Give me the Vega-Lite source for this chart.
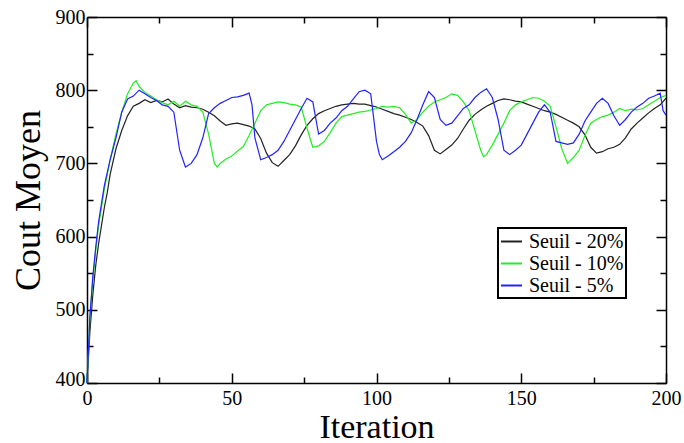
{
  "$schema": "https://vega.github.io/schema/vega-lite/v6.json",
  "width": 579,
  "height": 366,
  "autosize": "none",
  "padding": {"left": 87, "top": 17, "right": 18, "bottom": 60},
  "background": "white",
  "config": {
    "view": {"stroke": null},
    "axis": {
      "labelFont": "Liberation Serif", "labelFontSize": 20, "labelColor": "black",
      "titleFont": "Liberation Serif", "titleFontWeight": "normal", "titleColor": "black",
      "domainColor": "black", "domainWidth": 1.5, "tickColor": "black", "tickWidth": 1.5,
      "grid": false
    }
  },
  "data": {"values": [
    {"i":0,"v":400,"s":"Seuil - 20%"},{"i":1,"v":470,"s":"Seuil - 20%"},{"i":2,"v":520,"s":"Seuil - 20%"},{"i":3,"v":560,"s":"Seuil - 20%"},{"i":4,"v":590,"s":"Seuil - 20%"},{"i":5,"v":615,"s":"Seuil - 20%"},{"i":6,"v":640,"s":"Seuil - 20%"},{"i":7,"v":660,"s":"Seuil - 20%"},{"i":8,"v":685,"s":"Seuil - 20%"},{"i":10,"v":720,"s":"Seuil - 20%"},{"i":12,"v":745,"s":"Seuil - 20%"},{"i":14,"v":765,"s":"Seuil - 20%"},{"i":16,"v":778,"s":"Seuil - 20%"},{"i":18,"v":782,"s":"Seuil - 20%"},{"i":20,"v":787,"s":"Seuil - 20%"},{"i":22,"v":783,"s":"Seuil - 20%"},{"i":24,"v":786,"s":"Seuil - 20%"},{"i":26,"v":784,"s":"Seuil - 20%"},{"i":28,"v":788,"s":"Seuil - 20%"},{"i":30,"v":781,"s":"Seuil - 20%"},{"i":32,"v":776,"s":"Seuil - 20%"},{"i":34,"v":779,"s":"Seuil - 20%"},{"i":36,"v":777,"s":"Seuil - 20%"},{"i":38,"v":776,"s":"Seuil - 20%"},{"i":40,"v":774,"s":"Seuil - 20%"},{"i":42,"v":770,"s":"Seuil - 20%"},{"i":44,"v":765,"s":"Seuil - 20%"},{"i":46,"v":758,"s":"Seuil - 20%"},{"i":48,"v":752,"s":"Seuil - 20%"},{"i":50,"v":754,"s":"Seuil - 20%"},{"i":52,"v":755,"s":"Seuil - 20%"},{"i":54,"v":753,"s":"Seuil - 20%"},{"i":56,"v":751,"s":"Seuil - 20%"},{"i":58,"v":747,"s":"Seuil - 20%"},{"i":60,"v":734,"s":"Seuil - 20%"},{"i":62,"v":714,"s":"Seuil - 20%"},{"i":64,"v":701,"s":"Seuil - 20%"},{"i":66,"v":696,"s":"Seuil - 20%"},{"i":68,"v":704,"s":"Seuil - 20%"},{"i":70,"v":712,"s":"Seuil - 20%"},{"i":72,"v":724,"s":"Seuil - 20%"},{"i":74,"v":739,"s":"Seuil - 20%"},{"i":76,"v":752,"s":"Seuil - 20%"},{"i":78,"v":761,"s":"Seuil - 20%"},{"i":80,"v":768,"s":"Seuil - 20%"},{"i":82,"v":772,"s":"Seuil - 20%"},{"i":84,"v":775,"s":"Seuil - 20%"},{"i":86,"v":778,"s":"Seuil - 20%"},{"i":88,"v":780,"s":"Seuil - 20%"},{"i":90,"v":781,"s":"Seuil - 20%"},{"i":92,"v":782,"s":"Seuil - 20%"},{"i":94,"v":781,"s":"Seuil - 20%"},{"i":96,"v":781,"s":"Seuil - 20%"},{"i":98,"v":779,"s":"Seuil - 20%"},{"i":100,"v":777,"s":"Seuil - 20%"},{"i":102,"v":774,"s":"Seuil - 20%"},{"i":104,"v":771,"s":"Seuil - 20%"},{"i":106,"v":768,"s":"Seuil - 20%"},{"i":108,"v":766,"s":"Seuil - 20%"},{"i":110,"v":763,"s":"Seuil - 20%"},{"i":112,"v":760,"s":"Seuil - 20%"},{"i":114,"v":756,"s":"Seuil - 20%"},{"i":116,"v":751,"s":"Seuil - 20%"},{"i":118,"v":738,"s":"Seuil - 20%"},{"i":120,"v":718,"s":"Seuil - 20%"},{"i":122,"v":713,"s":"Seuil - 20%"},{"i":124,"v":719,"s":"Seuil - 20%"},{"i":126,"v":725,"s":"Seuil - 20%"},{"i":128,"v":734,"s":"Seuil - 20%"},{"i":130,"v":747,"s":"Seuil - 20%"},{"i":132,"v":759,"s":"Seuil - 20%"},{"i":134,"v":767,"s":"Seuil - 20%"},{"i":136,"v":773,"s":"Seuil - 20%"},{"i":138,"v":778,"s":"Seuil - 20%"},{"i":140,"v":782,"s":"Seuil - 20%"},{"i":142,"v":786,"s":"Seuil - 20%"},{"i":144,"v":788,"s":"Seuil - 20%"},{"i":146,"v":787,"s":"Seuil - 20%"},{"i":148,"v":785,"s":"Seuil - 20%"},{"i":150,"v":784,"s":"Seuil - 20%"},{"i":152,"v":781,"s":"Seuil - 20%"},{"i":154,"v":778,"s":"Seuil - 20%"},{"i":156,"v":775,"s":"Seuil - 20%"},{"i":158,"v":772,"s":"Seuil - 20%"},{"i":160,"v":770,"s":"Seuil - 20%"},{"i":162,"v":767,"s":"Seuil - 20%"},{"i":164,"v":763,"s":"Seuil - 20%"},{"i":166,"v":759,"s":"Seuil - 20%"},{"i":168,"v":755,"s":"Seuil - 20%"},{"i":170,"v":750,"s":"Seuil - 20%"},{"i":172,"v":739,"s":"Seuil - 20%"},{"i":174,"v":722,"s":"Seuil - 20%"},{"i":176,"v":714,"s":"Seuil - 20%"},{"i":178,"v":716,"s":"Seuil - 20%"},{"i":180,"v":720,"s":"Seuil - 20%"},{"i":182,"v":722,"s":"Seuil - 20%"},{"i":184,"v":726,"s":"Seuil - 20%"},{"i":186,"v":735,"s":"Seuil - 20%"},{"i":188,"v":747,"s":"Seuil - 20%"},{"i":190,"v":755,"s":"Seuil - 20%"},{"i":192,"v":762,"s":"Seuil - 20%"},{"i":194,"v":769,"s":"Seuil - 20%"},{"i":196,"v":775,"s":"Seuil - 20%"},{"i":198,"v":780,"s":"Seuil - 20%"},{"i":200,"v":789,"s":"Seuil - 20%"},

    {"i":0,"v":400,"s":"Seuil - 10%"},{"i":1,"v":490,"s":"Seuil - 10%"},{"i":2,"v":540,"s":"Seuil - 10%"},{"i":3,"v":580,"s":"Seuil - 10%"},{"i":4,"v":615,"s":"Seuil - 10%"},{"i":5,"v":640,"s":"Seuil - 10%"},{"i":6,"v":665,"s":"Seuil - 10%"},{"i":8,"v":705,"s":"Seuil - 10%"},{"i":10,"v":740,"s":"Seuil - 10%"},{"i":12,"v":770,"s":"Seuil - 10%"},{"i":14,"v":795,"s":"Seuil - 10%"},{"i":16,"v":810,"s":"Seuil - 10%"},{"i":17,"v":813,"s":"Seuil - 10%"},{"i":18,"v":805,"s":"Seuil - 10%"},{"i":20,"v":797,"s":"Seuil - 10%"},{"i":22,"v":792,"s":"Seuil - 10%"},{"i":24,"v":787,"s":"Seuil - 10%"},{"i":26,"v":783,"s":"Seuil - 10%"},{"i":28,"v":780,"s":"Seuil - 10%"},{"i":30,"v":785,"s":"Seuil - 10%"},{"i":32,"v":778,"s":"Seuil - 10%"},{"i":34,"v":785,"s":"Seuil - 10%"},{"i":36,"v":780,"s":"Seuil - 10%"},{"i":38,"v":778,"s":"Seuil - 10%"},{"i":40,"v":770,"s":"Seuil - 10%"},{"i":42,"v":740,"s":"Seuil - 10%"},{"i":44,"v":700,"s":"Seuil - 10%"},{"i":45,"v":695,"s":"Seuil - 10%"},{"i":46,"v":700,"s":"Seuil - 10%"},{"i":48,"v":706,"s":"Seuil - 10%"},{"i":50,"v":710,"s":"Seuil - 10%"},{"i":52,"v":717,"s":"Seuil - 10%"},{"i":54,"v":723,"s":"Seuil - 10%"},{"i":56,"v":738,"s":"Seuil - 10%"},{"i":58,"v":755,"s":"Seuil - 10%"},{"i":60,"v":772,"s":"Seuil - 10%"},{"i":62,"v":780,"s":"Seuil - 10%"},{"i":64,"v":782,"s":"Seuil - 10%"},{"i":66,"v":784,"s":"Seuil - 10%"},{"i":68,"v":783,"s":"Seuil - 10%"},{"i":70,"v":781,"s":"Seuil - 10%"},{"i":72,"v":780,"s":"Seuil - 10%"},{"i":74,"v":777,"s":"Seuil - 10%"},{"i":76,"v":748,"s":"Seuil - 10%"},{"i":78,"v":722,"s":"Seuil - 10%"},{"i":80,"v":724,"s":"Seuil - 10%"},{"i":82,"v":730,"s":"Seuil - 10%"},{"i":84,"v":742,"s":"Seuil - 10%"},{"i":86,"v":755,"s":"Seuil - 10%"},{"i":88,"v":764,"s":"Seuil - 10%"},{"i":90,"v":766,"s":"Seuil - 10%"},{"i":92,"v":768,"s":"Seuil - 10%"},{"i":94,"v":770,"s":"Seuil - 10%"},{"i":96,"v":771,"s":"Seuil - 10%"},{"i":98,"v":773,"s":"Seuil - 10%"},{"i":100,"v":775,"s":"Seuil - 10%"},{"i":102,"v":778,"s":"Seuil - 10%"},{"i":104,"v":777,"s":"Seuil - 10%"},{"i":106,"v":778,"s":"Seuil - 10%"},{"i":108,"v":776,"s":"Seuil - 10%"},{"i":110,"v":767,"s":"Seuil - 10%"},{"i":112,"v":755,"s":"Seuil - 10%"},{"i":114,"v":760,"s":"Seuil - 10%"},{"i":116,"v":770,"s":"Seuil - 10%"},{"i":118,"v":778,"s":"Seuil - 10%"},{"i":120,"v":784,"s":"Seuil - 10%"},{"i":122,"v":787,"s":"Seuil - 10%"},{"i":124,"v":790,"s":"Seuil - 10%"},{"i":126,"v":795,"s":"Seuil - 10%"},{"i":128,"v":793,"s":"Seuil - 10%"},{"i":130,"v":784,"s":"Seuil - 10%"},{"i":132,"v":772,"s":"Seuil - 10%"},{"i":134,"v":745,"s":"Seuil - 10%"},{"i":136,"v":718,"s":"Seuil - 10%"},{"i":137,"v":709,"s":"Seuil - 10%"},{"i":138,"v":712,"s":"Seuil - 10%"},{"i":140,"v":725,"s":"Seuil - 10%"},{"i":142,"v":740,"s":"Seuil - 10%"},{"i":144,"v":755,"s":"Seuil - 10%"},{"i":146,"v":772,"s":"Seuil - 10%"},{"i":148,"v":780,"s":"Seuil - 10%"},{"i":150,"v":784,"s":"Seuil - 10%"},{"i":152,"v":787,"s":"Seuil - 10%"},{"i":154,"v":790,"s":"Seuil - 10%"},{"i":156,"v":789,"s":"Seuil - 10%"},{"i":158,"v":785,"s":"Seuil - 10%"},{"i":160,"v":778,"s":"Seuil - 10%"},{"i":162,"v":750,"s":"Seuil - 10%"},{"i":164,"v":720,"s":"Seuil - 10%"},{"i":166,"v":700,"s":"Seuil - 10%"},{"i":168,"v":708,"s":"Seuil - 10%"},{"i":170,"v":718,"s":"Seuil - 10%"},{"i":172,"v":738,"s":"Seuil - 10%"},{"i":174,"v":755,"s":"Seuil - 10%"},{"i":176,"v":760,"s":"Seuil - 10%"},{"i":178,"v":764,"s":"Seuil - 10%"},{"i":180,"v":766,"s":"Seuil - 10%"},{"i":182,"v":770,"s":"Seuil - 10%"},{"i":184,"v":775,"s":"Seuil - 10%"},{"i":186,"v":772,"s":"Seuil - 10%"},{"i":188,"v":774,"s":"Seuil - 10%"},{"i":190,"v":773,"s":"Seuil - 10%"},{"i":192,"v":775,"s":"Seuil - 10%"},{"i":194,"v":780,"s":"Seuil - 10%"},{"i":196,"v":785,"s":"Seuil - 10%"},{"i":198,"v":790,"s":"Seuil - 10%"},{"i":200,"v":793,"s":"Seuil - 10%"},

    {"i":0,"v":400,"s":"Seuil - 5%"},{"i":1,"v":490,"s":"Seuil - 5%"},{"i":2,"v":545,"s":"Seuil - 5%"},{"i":3,"v":585,"s":"Seuil - 5%"},{"i":4,"v":620,"s":"Seuil - 5%"},{"i":5,"v":645,"s":"Seuil - 5%"},{"i":6,"v":670,"s":"Seuil - 5%"},{"i":8,"v":705,"s":"Seuil - 5%"},{"i":10,"v":735,"s":"Seuil - 5%"},{"i":12,"v":770,"s":"Seuil - 5%"},{"i":14,"v":788,"s":"Seuil - 5%"},{"i":16,"v":792,"s":"Seuil - 5%"},{"i":18,"v":800,"s":"Seuil - 5%"},{"i":20,"v":795,"s":"Seuil - 5%"},{"i":22,"v":790,"s":"Seuil - 5%"},{"i":24,"v":786,"s":"Seuil - 5%"},{"i":26,"v":780,"s":"Seuil - 5%"},{"i":28,"v":778,"s":"Seuil - 5%"},{"i":30,"v":770,"s":"Seuil - 5%"},{"i":32,"v":718,"s":"Seuil - 5%"},{"i":34,"v":695,"s":"Seuil - 5%"},{"i":36,"v":700,"s":"Seuil - 5%"},{"i":38,"v":712,"s":"Seuil - 5%"},{"i":40,"v":735,"s":"Seuil - 5%"},{"i":42,"v":768,"s":"Seuil - 5%"},{"i":44,"v":776,"s":"Seuil - 5%"},{"i":46,"v":782,"s":"Seuil - 5%"},{"i":48,"v":786,"s":"Seuil - 5%"},{"i":50,"v":790,"s":"Seuil - 5%"},{"i":52,"v":791,"s":"Seuil - 5%"},{"i":54,"v":793,"s":"Seuil - 5%"},{"i":56,"v":796,"s":"Seuil - 5%"},{"i":57,"v":780,"s":"Seuil - 5%"},{"i":58,"v":735,"s":"Seuil - 5%"},{"i":60,"v":705,"s":"Seuil - 5%"},{"i":62,"v":708,"s":"Seuil - 5%"},{"i":64,"v":712,"s":"Seuil - 5%"},{"i":66,"v":718,"s":"Seuil - 5%"},{"i":68,"v":730,"s":"Seuil - 5%"},{"i":70,"v":745,"s":"Seuil - 5%"},{"i":72,"v":760,"s":"Seuil - 5%"},{"i":74,"v":775,"s":"Seuil - 5%"},{"i":76,"v":789,"s":"Seuil - 5%"},{"i":78,"v":784,"s":"Seuil - 5%"},{"i":80,"v":740,"s":"Seuil - 5%"},{"i":82,"v":745,"s":"Seuil - 5%"},{"i":84,"v":755,"s":"Seuil - 5%"},{"i":86,"v":762,"s":"Seuil - 5%"},{"i":88,"v":772,"s":"Seuil - 5%"},{"i":90,"v":778,"s":"Seuil - 5%"},{"i":92,"v":788,"s":"Seuil - 5%"},{"i":94,"v":798,"s":"Seuil - 5%"},{"i":96,"v":800,"s":"Seuil - 5%"},{"i":98,"v":795,"s":"Seuil - 5%"},{"i":100,"v":730,"s":"Seuil - 5%"},{"i":101,"v":712,"s":"Seuil - 5%"},{"i":102,"v":705,"s":"Seuil - 5%"},{"i":104,"v":710,"s":"Seuil - 5%"},{"i":106,"v":716,"s":"Seuil - 5%"},{"i":108,"v":722,"s":"Seuil - 5%"},{"i":110,"v":730,"s":"Seuil - 5%"},{"i":112,"v":742,"s":"Seuil - 5%"},{"i":114,"v":760,"s":"Seuil - 5%"},{"i":116,"v":780,"s":"Seuil - 5%"},{"i":118,"v":798,"s":"Seuil - 5%"},{"i":120,"v":790,"s":"Seuil - 5%"},{"i":122,"v":760,"s":"Seuil - 5%"},{"i":124,"v":752,"s":"Seuil - 5%"},{"i":126,"v":755,"s":"Seuil - 5%"},{"i":128,"v":765,"s":"Seuil - 5%"},{"i":130,"v":775,"s":"Seuil - 5%"},{"i":132,"v":780,"s":"Seuil - 5%"},{"i":134,"v":790,"s":"Seuil - 5%"},{"i":136,"v":797,"s":"Seuil - 5%"},{"i":138,"v":802,"s":"Seuil - 5%"},{"i":140,"v":790,"s":"Seuil - 5%"},{"i":142,"v":760,"s":"Seuil - 5%"},{"i":144,"v":718,"s":"Seuil - 5%"},{"i":146,"v":712,"s":"Seuil - 5%"},{"i":148,"v":718,"s":"Seuil - 5%"},{"i":150,"v":725,"s":"Seuil - 5%"},{"i":152,"v":740,"s":"Seuil - 5%"},{"i":154,"v":755,"s":"Seuil - 5%"},{"i":156,"v":770,"s":"Seuil - 5%"},{"i":158,"v":780,"s":"Seuil - 5%"},{"i":160,"v":770,"s":"Seuil - 5%"},{"i":162,"v":730,"s":"Seuil - 5%"},{"i":164,"v":728,"s":"Seuil - 5%"},{"i":166,"v":726,"s":"Seuil - 5%"},{"i":168,"v":728,"s":"Seuil - 5%"},{"i":170,"v":740,"s":"Seuil - 5%"},{"i":172,"v":758,"s":"Seuil - 5%"},{"i":174,"v":770,"s":"Seuil - 5%"},{"i":176,"v":782,"s":"Seuil - 5%"},{"i":178,"v":789,"s":"Seuil - 5%"},{"i":180,"v":782,"s":"Seuil - 5%"},{"i":182,"v":765,"s":"Seuil - 5%"},{"i":184,"v":752,"s":"Seuil - 5%"},{"i":186,"v":760,"s":"Seuil - 5%"},{"i":188,"v":770,"s":"Seuil - 5%"},{"i":190,"v":777,"s":"Seuil - 5%"},{"i":192,"v":782,"s":"Seuil - 5%"},{"i":194,"v":789,"s":"Seuil - 5%"},{"i":196,"v":792,"s":"Seuil - 5%"},{"i":198,"v":796,"s":"Seuil - 5%"},{"i":199,"v":772,"s":"Seuil - 5%"},{"i":200,"v":766,"s":"Seuil - 5%"}
  ]},
  "resolve": {"axis": {"x": "independent", "y": "independent"}},
  "layer": [
    {
      "mark": {"type": "line", "strokeWidth": 1.2},
      "encoding": {
        "x": {"field": "i", "type": "quantitative",
          "scale": {"domain": [0, 200], "nice": false, "zero": false},
          "axis": {"orient": "bottom", "title": "Iteration", "titleFontSize": 34, "values": [0,25,50,75,100,125,150,175,200],
            "labelExpr": "datum.value % 50 === 0 ? datum.label : ''",
            "tickSize": {"condition": {"test": "datum.value % 50 === 0", "value": -10}, "value": -6},
            "labelPadding": 15, "labelFlush": false, "titlePadding": 2}},
        "y": {"field": "v", "type": "quantitative",
          "scale": {"domain": [400, 900], "nice": false, "zero": false},
          "axis": {"orient": "left", "title": "Cout Moyen", "titleFontSize": 36, "values": [400,450,500,550,600,650,700,750,800,850,900],
            "labelExpr": "datum.value % 100 === 0 ? datum.label : ''",
            "labelOffset": {"condition": {"test": "datum.value === 400", "value": -4}, "value": 0},
            "tickSize": {"condition": {"test": "datum.value % 100 === 0", "value": -10}, "value": -6},
            "labelPadding": 12, "labelFlush": false, "titlePadding": 8}},
        "color": {"field": "s", "type": "nominal",
          "scale": {"domain": ["Seuil - 20%", "Seuil - 10%", "Seuil - 5%"], "range": ["#222222", "#22ee22", "#2222ff"]},
          "legend": {"title": null, "orient": "none", "legendX": 411, "legendY": 211,
            "symbolType": "stroke", "symbolSize": 440, "symbolStrokeWidth": 2,
            "labelFont": "Liberation Serif", "labelFontSize": 20, "labelColor": "black", "labelOffset": 6,
            "strokeColor": "black", "padding": 2, "rowPadding": 0, "fillColor": "white",
            "encode": {"legend": {"update": {"strokeWidth": {"value": 2}}}}}},
        "order": {"field": "i", "type": "quantitative"}
      }
    },
    {
      "mark": {"type": "line", "strokeOpacity": 0},
      "encoding": {
        "x": {"field": "i", "type": "quantitative",
          "axis": {"orient": "top", "title": null, "labels": false, "values": [0,25,50,75,100,125,150,175,200],
            "tickSize": {"condition": {"test": "datum.value % 50 === 0", "value": -10}, "value": -6}}},
        "y": {"field": "v", "type": "quantitative",
          "axis": {"orient": "right", "title": null, "labels": false, "values": [400,450,500,550,600,650,700,750,800,850,900],
            "tickSize": {"condition": {"test": "datum.value % 100 === 0", "value": -10}, "value": -6}}},
        "detail": {"field": "s", "type": "nominal"}
      }
    }
  ]
}
